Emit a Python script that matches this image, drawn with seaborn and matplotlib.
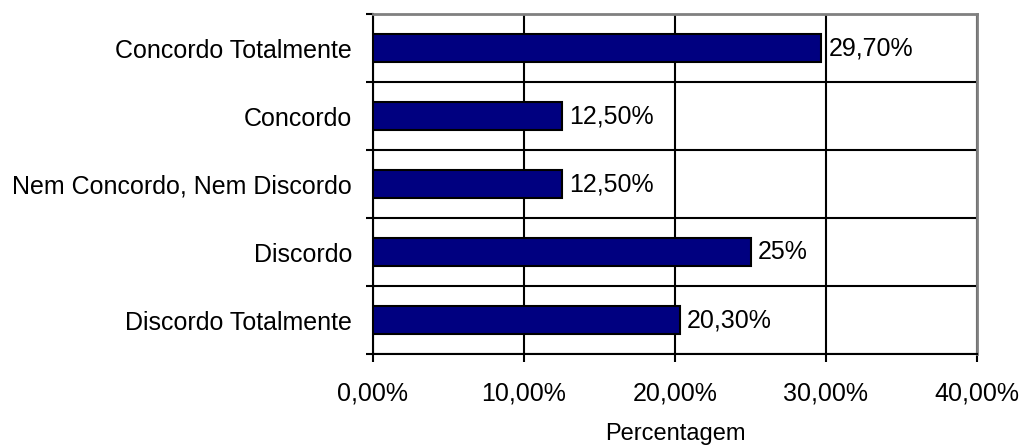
import matplotlib
matplotlib.use("Agg")
import matplotlib.pyplot as plt
import seaborn as sns
import pandas as pd
from matplotlib.ticker import FixedLocator

categories = ["Concordo Totalmente", "Concordo", "Nem Concordo, Nem Discordo",
              "Discordo", "Discordo Totalmente"]
values = [29.70, 12.50, 12.50, 25.0, 20.30]
value_labels = ["29,70%", "12,50%", "12,50%", "25%", "20,30%"]
xticks = [0, 10, 20, 30, 40]
xtick_labels = ["0,00%", "10,00%", "20,00%", "30,00%", "40,00%"]

sns.set_theme(style="white")
plt.rcParams['font.family'] = ['Liberation Sans', 'DejaVu Sans']
plt.rcParams['text.color'] = 'black'
plt.rcParams['axes.labelcolor'] = 'black'
plt.rcParams['xtick.color'] = 'black'
plt.rcParams['ytick.color'] = 'black'

df = pd.DataFrame({"cat": categories, "val": values})

fig = plt.figure(figsize=(10.23, 4.48), dpi=100)
ax = fig.add_axes([373/1023, 1-354/448, (977-373)/1023, (354-14)/448])

sns.barplot(data=df, x="val", y="cat", orient="h", color="#000080",
            width=0.42, edgecolor="black", linewidth=1.5, saturation=1, ax=ax, zorder=3)

ax.set_xlim(0, 40)
ax.set_ylim(len(categories) - 0.5, -0.5)
ax.xaxis.set_major_locator(FixedLocator(xticks))
ax.set_xticklabels(xtick_labels, fontsize=18)

# y ticks at category boundaries, labels at centers
ax.set_yticks([i + 0.5 for i in range(-1, len(categories))])
ax.set_yticklabels([])
ax.set_yticks(range(len(categories)), minor=True)
ax.set_yticklabels(categories, minor=True, fontsize=18)
ax.tick_params(axis="y", which="minor", length=0, pad=15)
ax.tick_params(axis="y", which="major", length=5, width=1.5, direction="out", left=True)
ax.tick_params(axis="x", which="major", length=6, width=1.5, direction="out", bottom=True, pad=13.5)

ax.grid(True, axis="x", which="major", color="black", linewidth=1.5, zorder=0)
ax.grid(True, axis="y", which="major", color="black", linewidth=1.5, zorder=0)
ax.set_axisbelow(True)

for side in ["left", "bottom"]:
    ax.spines[side].set_color("black")
    ax.spines[side].set_linewidth(1.5)
for side in ["top", "right"]:
    ax.spines[side].set_color("#808080")
    ax.spines[side].set_linewidth(2)

for i, (v, lab) in enumerate(zip(values, value_labels)):
    ax.text(v + 0.5, i, lab, va="center", ha="left", fontsize=18, color="black", zorder=4)

ax.set_xlabel("Percentagem", fontsize=17, labelpad=13)
ax.set_ylabel("")

fig.savefig("out.png", dpi=100)
